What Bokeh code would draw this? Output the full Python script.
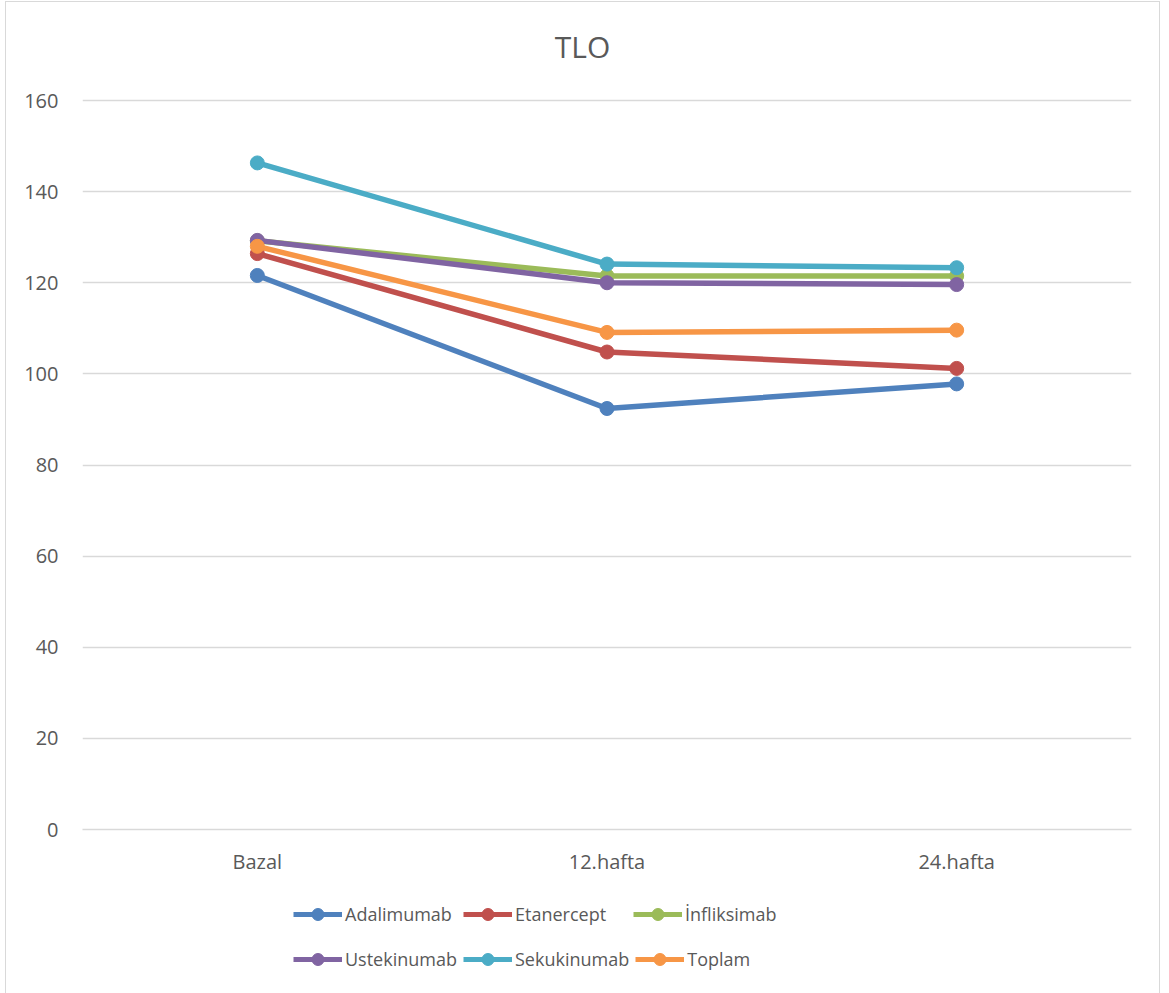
from bokeh.plotting import figure
from bokeh.layouts import column
from bokeh.models import Range1d, FactorRange, Legend, LegendItem, SingleIntervalTicker, Label
from bokeh.embed import file_html
from bokeh.resources import INLINE

# Treatment periods
periods = ["Bazal", "12.hafta", "24.hafta"]

# TLO values per treatment group
adalimumab = [121.6, 92.4, 97.8]
etanercept = [126.4, 104.8, 101.2]
infliksimab = [129.2, 121.5, 121.5]
ustekinumab = [129.3, 120.0, 119.6]
sekukinumab = [146.3, 124.1, 123.3]
toplam = [128.0, 109.1, 109.6]

series_names = ["Adalimumab", "Etanercept", "İnfliksimab", "Ustekinumab", "Sekukinumab", "Toplam"]
series_values = [adalimumab, etanercept, infliksimab, ustekinumab, sekukinumab, toplam]
series_colors = ["#4F81BD", "#C0504D", "#9BBB59", "#8064A2", "#4BACC6", "#F79646"]

FONT = "Open Sans"
TEXT_COLOR = "#595959"
GRID_COLOR = "#d9d9d9"
CANVAS_W = 1153
Y_MAX = 160


def blank_strip(height, x_range, y_range):
    f = figure(
        width=CANVAS_W, height=height,
        x_range=x_range, y_range=y_range,
        output_backend="svg", toolbar_location=None,
        min_border=0,
        background_fill_color="white", border_fill_color="white",
    )
    f.axis.visible = False
    f.grid.visible = False
    f.outline_line_color = None
    return f


# Title strip
t = blank_strip(76, Range1d(0, 1), Range1d(0, 1))
t.add_layout(Label(
    x=500, y=32, x_units="screen", y_units="screen",
    text="TLO", text_align="center", text_baseline="middle",
    text_font=FONT, text_font_size="30px", text_color=TEXT_COLOR,
))

# Main chart
p = figure(
    width=CANVAS_W, height=806,
    x_range=FactorRange(factors=periods),
    y_range=Range1d(0, Y_MAX * 731 / 729),
    output_backend="svg",
    toolbar_location=None,
    min_border_left=76, min_border_right=28,
    min_border_top=20, min_border_bottom=55,
    background_fill_color="white",
    border_fill_color="white",
)
p.outline_line_color = None

p.yaxis.ticker = SingleIntervalTicker(interval=20)
p.yaxis.axis_line_color = None
p.yaxis.major_tick_line_color = None
p.yaxis.minor_tick_line_color = None
p.yaxis.major_tick_out = 0
p.yaxis.major_label_standoff = 20
p.xaxis.axis_line_color = GRID_COLOR
p.xaxis.axis_line_width = 1.5
p.xaxis.major_tick_line_color = None
p.xaxis.minor_tick_line_color = None
p.xaxis.major_tick_out = 0
p.xaxis.major_label_standoff = 18
for ax in (p.xaxis, p.yaxis):
    ax.major_label_text_font = FONT
    ax.major_label_text_font_size = "20px"
    ax.major_label_text_color = TEXT_COLOR

p.xgrid.grid_line_color = None
p.ygrid.grid_line_color = GRID_COLOR
p.ygrid.grid_line_width = 1.5

for vals, color in zip(series_values, series_colors):
    p.line(periods, vals, line_color=color, line_width=5.5, line_cap="round", line_join="round")
    p.scatter(periods, vals, size=14, fill_color=color, line_color=color)

# Legend strip: two rows of three entries; the sample renderers sit outside
# this strip's visible range, so only their legend swatches show
q = blank_strip(109, FactorRange(factors=periods), Range1d(0, 1))
items = []
for name, vals, color in zip(series_names, series_values, series_colors):
    ln = q.line(periods, vals, line_color=color, line_width=5)
    sc = q.scatter(periods, vals, fill_color=color, line_color=color)
    items.append(LegendItem(label=name, renderers=[ln, sc]))

for row, vy in enumerate([64, 19]):
    leg = Legend(
        items=items[row * 3:(row + 1) * 3],
        location=(211, vy),
        orientation="horizontal",
        margin=0, padding=0, spacing=6,
        glyph_width=49, glyph_height=30, label_height=30, label_width=112,
        label_standoff=3,
        label_text_font=FONT, label_text_font_size="18px",
        label_text_color=TEXT_COLOR,
        border_line_color=None, background_fill_alpha=0,
    )
    q.add_layout(leg, "center")

layout = column(t, p, q, spacing=0)
layout.styles = {"border": "1px solid #d9d9d9", "margin-left": "5px", "margin-top": "1px"}

open("out.html", "w").write(file_html(layout, INLINE))
